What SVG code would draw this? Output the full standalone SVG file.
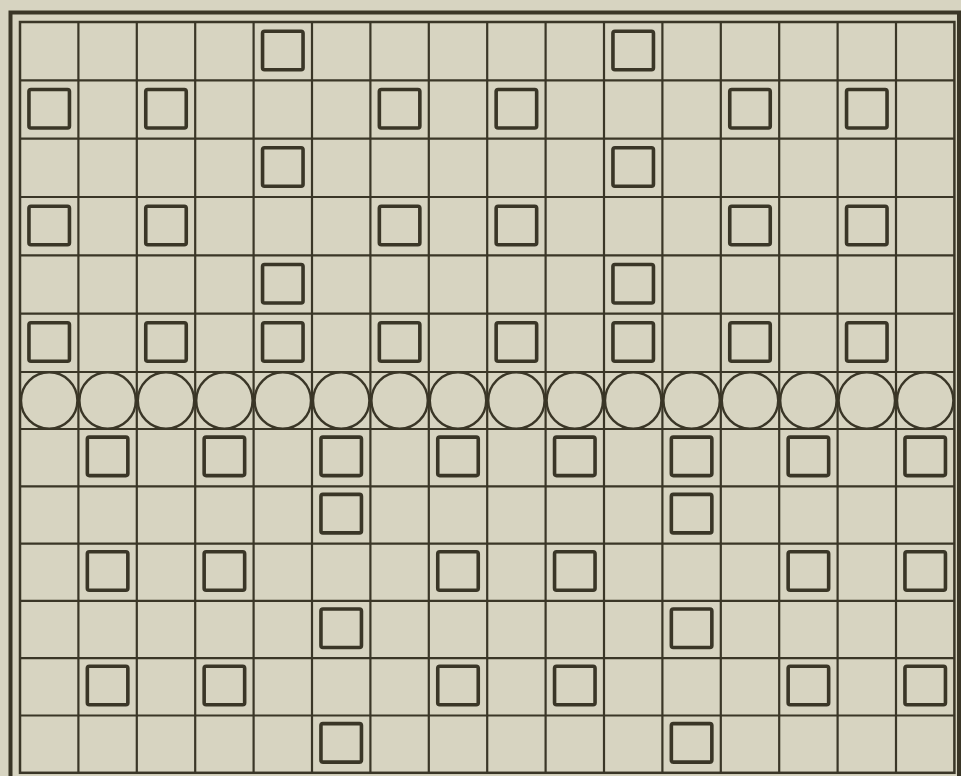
<svg xmlns="http://www.w3.org/2000/svg" width="961" height="776" viewBox="0 0 961 776">
<style>
.bg{fill:#d7d4c1}
.frame{fill:none;stroke:#3a3627;stroke-width:4}
.inner{fill:none;stroke:#3a3627;stroke-width:2.5}
.grid{fill:none;stroke:#3a3627;stroke-width:2.2}
.sq{fill:none;stroke:#3a3627;stroke-width:3.6;rx:2}
.ci{fill:none;stroke:#3a3627;stroke-width:2.4}
</style>
<rect class="bg" x="0" y="0" width="961" height="776"/>
<g id="frame">
<rect class="frame" x="10.5" y="12.5" width="948.5" height="775"/>
<rect class="inner" x="20" y="22" width="934.4" height="750.8"/>
</g>
<g id="grid">
<path class="grid" d="M78.4 22V772.8M136.8 22V772.8M195.2 22V772.8M253.6 22V772.8M312 22V772.8M370.4 22V772.8M428.8 22V772.8M487.2 22V772.8M545.6 22V772.8M604 22V772.8M662.4 22V772.8M720.8 22V772.8M779.2 22V772.8M837.6 22V772.8M896 22V772.8"/>
<path class="grid" d="M20 80.33H954.4M20 138.67H954.4M20 197H954.4M20 255.33H954.4M20 313.67H954.4M20 372H954.4M20 429H954.4M20 486.3H954.4M20 543.6H954.4M20 600.9H954.4M20 658.2H954.4M20 715.5H954.4"/>
</g>
<g id="circles">
<circle class="ci" cx="49.2" cy="400.5" r="28.2"/>
<circle class="ci" cx="107.6" cy="400.5" r="28.2"/>
<circle class="ci" cx="166" cy="400.5" r="28.2"/>
<circle class="ci" cx="224.4" cy="400.5" r="28.2"/>
<circle class="ci" cx="282.8" cy="400.5" r="28.2"/>
<circle class="ci" cx="341.2" cy="400.5" r="28.2"/>
<circle class="ci" cx="399.6" cy="400.5" r="28.2"/>
<circle class="ci" cx="458" cy="400.5" r="28.2"/>
<circle class="ci" cx="516.4" cy="400.5" r="28.2"/>
<circle class="ci" cx="574.8" cy="400.5" r="28.2"/>
<circle class="ci" cx="633.2" cy="400.5" r="28.2"/>
<circle class="ci" cx="691.6" cy="400.5" r="28.2"/>
<circle class="ci" cx="750" cy="400.5" r="28.2"/>
<circle class="ci" cx="808.4" cy="400.5" r="28.2"/>
<circle class="ci" cx="866.8" cy="400.5" r="28.2"/>
<circle class="ci" cx="925.2" cy="400.5" r="28.2"/>
</g>
<g id="squares-top">
<rect class="sq" x="262.55" y="31.2" width="40.5" height="38.5"/>
<rect class="sq" x="612.95" y="31.2" width="40.5" height="38.5"/>
<rect class="sq" x="28.95" y="89.5" width="40.5" height="38.5"/>
<rect class="sq" x="145.75" y="89.5" width="40.5" height="38.5"/>
<rect class="sq" x="379.35" y="89.5" width="40.5" height="38.5"/>
<rect class="sq" x="496.15" y="89.5" width="40.5" height="38.5"/>
<rect class="sq" x="729.75" y="89.5" width="40.5" height="38.5"/>
<rect class="sq" x="846.55" y="89.5" width="40.5" height="38.5"/>
<rect class="sq" x="262.55" y="147.8" width="40.5" height="38.5"/>
<rect class="sq" x="612.95" y="147.8" width="40.5" height="38.5"/>
<rect class="sq" x="28.95" y="206.2" width="40.5" height="38.5"/>
<rect class="sq" x="145.75" y="206.2" width="40.5" height="38.5"/>
<rect class="sq" x="379.35" y="206.2" width="40.5" height="38.5"/>
<rect class="sq" x="496.15" y="206.2" width="40.5" height="38.5"/>
<rect class="sq" x="729.75" y="206.2" width="40.5" height="38.5"/>
<rect class="sq" x="846.55" y="206.2" width="40.5" height="38.5"/>
<rect class="sq" x="262.55" y="264.5" width="40.5" height="38.5"/>
<rect class="sq" x="612.95" y="264.5" width="40.5" height="38.5"/>
<rect class="sq" x="28.95" y="322.8" width="40.5" height="38.5"/>
<rect class="sq" x="145.75" y="322.8" width="40.5" height="38.5"/>
<rect class="sq" x="262.55" y="322.8" width="40.5" height="38.5"/>
<rect class="sq" x="379.35" y="322.8" width="40.5" height="38.5"/>
<rect class="sq" x="496.15" y="322.8" width="40.5" height="38.5"/>
<rect class="sq" x="612.95" y="322.8" width="40.5" height="38.5"/>
<rect class="sq" x="729.75" y="322.8" width="40.5" height="38.5"/>
<rect class="sq" x="846.55" y="322.8" width="40.5" height="38.5"/>
</g>
<g id="squares-bottom">
<rect class="sq" x="87.35" y="437.1" width="40.5" height="38.5"/>
<rect class="sq" x="204.15" y="437.1" width="40.5" height="38.5"/>
<rect class="sq" x="320.95" y="437.1" width="40.5" height="38.5"/>
<rect class="sq" x="437.75" y="437.1" width="40.5" height="38.5"/>
<rect class="sq" x="554.55" y="437.1" width="40.5" height="38.5"/>
<rect class="sq" x="671.35" y="437.1" width="40.5" height="38.5"/>
<rect class="sq" x="788.15" y="437.1" width="40.5" height="38.5"/>
<rect class="sq" x="904.95" y="437.1" width="40.5" height="38.5"/>
<rect class="sq" x="320.95" y="494.4" width="40.5" height="38.5"/>
<rect class="sq" x="671.35" y="494.4" width="40.5" height="38.5"/>
<rect class="sq" x="87.35" y="551.7" width="40.5" height="38.5"/>
<rect class="sq" x="204.15" y="551.7" width="40.5" height="38.5"/>
<rect class="sq" x="437.75" y="551.7" width="40.5" height="38.5"/>
<rect class="sq" x="554.55" y="551.7" width="40.5" height="38.5"/>
<rect class="sq" x="788.15" y="551.7" width="40.5" height="38.5"/>
<rect class="sq" x="904.95" y="551.7" width="40.5" height="38.5"/>
<rect class="sq" x="320.95" y="609" width="40.5" height="38.5"/>
<rect class="sq" x="671.35" y="609" width="40.5" height="38.5"/>
<rect class="sq" x="87.35" y="666.3" width="40.5" height="38.5"/>
<rect class="sq" x="204.15" y="666.3" width="40.5" height="38.5"/>
<rect class="sq" x="437.75" y="666.3" width="40.5" height="38.5"/>
<rect class="sq" x="554.55" y="666.3" width="40.5" height="38.5"/>
<rect class="sq" x="788.15" y="666.3" width="40.5" height="38.5"/>
<rect class="sq" x="904.95" y="666.3" width="40.5" height="38.5"/>
<rect class="sq" x="320.95" y="723.6" width="40.5" height="38.5"/>
<rect class="sq" x="671.35" y="723.6" width="40.5" height="38.5"/>
</g>
</svg>
